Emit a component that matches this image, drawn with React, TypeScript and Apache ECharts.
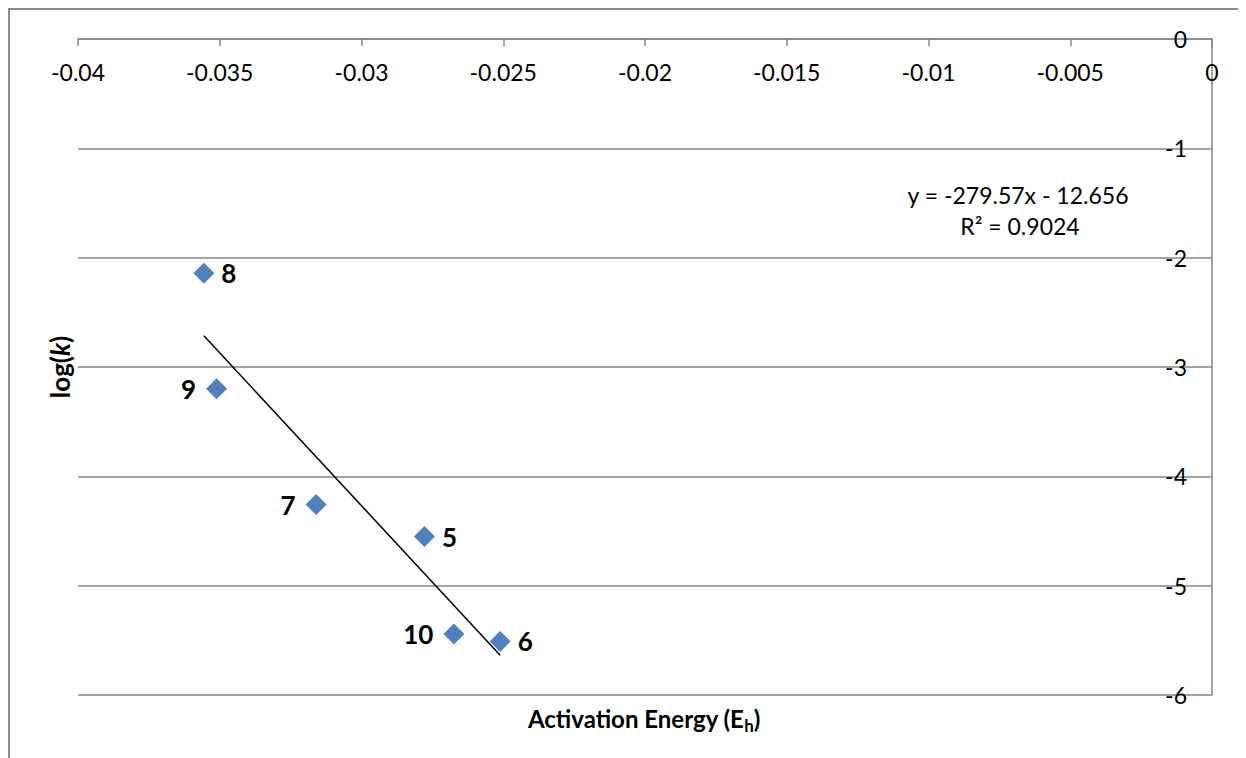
import React, { useEffect, useRef } from "react";
import * as echarts from "echarts";

// ---- data ----
const pointNames = ["8", "9", "7", "5", "10", "6"];
const activationEnergy = [-0.03556, -0.03511, -0.0316, -0.02778, -0.02674, -0.02511];
const logK = [-2.143, -3.199, -4.258, -4.551, -5.442, -5.51];

const TREND_SLOPE = -279.57;
const TREND_INTERCEPT = -12.656;
const TREND_R2 = 0.9024;

const X_MIN = -0.04;
const X_MAX = 0;
const X_STEP = 0.005;
const Y_MIN = -6;
const Y_MAX = 0;
const Y_STEP = 1;

// labels drawn to the left of their marker
const LEFT_LABELS = new Set(["9", "7", "10"]);

const FONT = "Lato, 'Open Sans', 'Liberation Sans', sans-serif";
const GRAY = "#868686";

export default function App() {
  const ref = useRef<HTMLDivElement | null>(null);

  useEffect(() => {
    if (!ref.current) return;
    document.documentElement.style.overflow = "hidden";
    const chart = echarts.init(ref.current, null, { renderer: "svg" });

    const xs = activationEnergy;
    const xLo = Math.min(...xs);
    const xHi = Math.max(...xs);
    const trend = [
      [xLo, TREND_SLOPE * xLo + TREND_INTERCEPT],
      [xHi, TREND_SLOPE * xHi + TREND_INTERCEPT],
    ];

    const scatterData = pointNames.map((n, i) => {
      const left = LEFT_LABELS.has(n);
      return {
        name: n,
        value: [activationEnergy[i], logK[i]],
        label: {
          position: left ? "left" : "right",
          distance: left ? 10 : 7,
        },
      };
    });

    const eqText = `y = ${TREND_SLOPE}x - ${Math.abs(TREND_INTERCEPT)}`;
    const r2Text = `R² = ${TREND_R2}`;

    chart.setOption({
      animation: false,
      backgroundColor: "#ffffff",
      grid: { left: 70, right: 26, top: 31, bottom: 63, containLabel: false },
      xAxis: {
        type: "value",
        position: "top",
        min: X_MIN,
        max: X_MAX,
        interval: X_STEP,
        axisLine: { show: true, onZero: false, lineStyle: { color: GRAY, width: 1.5 } },
        axisTick: { show: true, inside: true, length: 7, lineStyle: { color: GRAY, width: 1.5 } },
        axisLabel: {
          inside: true,
          margin: 21,
          fontFamily: FONT,
          fontSize: 23,
          color: "#000",
          formatter: (v: number) => String(+v.toFixed(4)),
        },
        splitLine: { show: false },
      },
      yAxis: {
        type: "value",
        position: "right",
        min: Y_MIN,
        max: Y_MAX,
        interval: Y_STEP,
        axisLine: { show: true, onZero: false, lineStyle: { color: GRAY, width: 1.5 } },
        axisTick: { show: false },
        axisLabel: {
          inside: true,
          margin: 25,
          fontFamily: FONT,
          fontSize: 23,
          color: "#000",
        },
        splitLine: { show: true, lineStyle: { color: GRAY, width: 1.5 } },
      },
      series: [
        {
          type: "scatter",
          symbol: "diamond",
          symbolSize: 21,
          itemStyle: { color: "#4F81BD", opacity: 1 },
          data: scatterData,
          label: {
            show: true,
            formatter: "{b}",
            fontFamily: FONT,
            fontWeight: "bold",
            fontSize: 26,
            color: "#000",
          },
          z: 2,
        },
        {
          type: "line",
          data: trend,
          symbol: "none",
          lineStyle: { color: "#000", width: 1.5 },
          z: 3,
          silent: true,
        },
      ],
      graphic: [
        {
          type: "rect",
          shape: { x: 1, y: 1, width: 1400, height: 1000 },
          style: { fill: "none", stroke: "#8c8c8c", lineWidth: 2 },
          silent: true,
        },
        {
          type: "text",
          x: 1010,
          y: 187,
          style: {
            text: eqText,
            fontFamily: FONT,
            fontSize: 23,
            fill: "#000",
            align: "center",
            verticalAlign: "middle",
          },
        },
        {
          type: "text",
          x: 1012,
          y: 218,
          style: {
            text: r2Text,
            fontFamily: FONT,
            fontSize: 23,
            fill: "#000",
            align: "center",
            verticalAlign: "middle",
          },
        },
        {
          type: "text",
          x: 636,
          y: 710,
          style: {
            text: "{a|Activation Energy (E}{b|h}{a|)}",
            align: "center",
            verticalAlign: "middle",
            rich: {
              a: { fontFamily: FONT, fontWeight: "bold", fontSize: 24, fill: "#000", lineHeight: 32, verticalAlign: "middle" },
              b: { fontFamily: FONT, fontWeight: "bold", fontSize: 17, fill: "#000", lineHeight: 17, verticalAlign: "bottom" },
            },
          },
        },
        {
          type: "text",
          x: 52,
          y: 359,
          rotation: Math.PI / 2,
          style: {
            text: "{a|log(}{i|k}{a|)}",
            align: "center",
            verticalAlign: "middle",
            rich: {
              a: { fontFamily: FONT, fontWeight: "bold", fontSize: 26, fill: "#000" },
              i: { fontFamily: FONT, fontWeight: "bold", fontStyle: "italic", fontSize: 26, fill: "#000" },
            },
          },
        },
      ],
    });

    return () => chart.dispose();
  }, []);

  return <div ref={ref} style={{ width: 1230, height: 750 }} />;
}
